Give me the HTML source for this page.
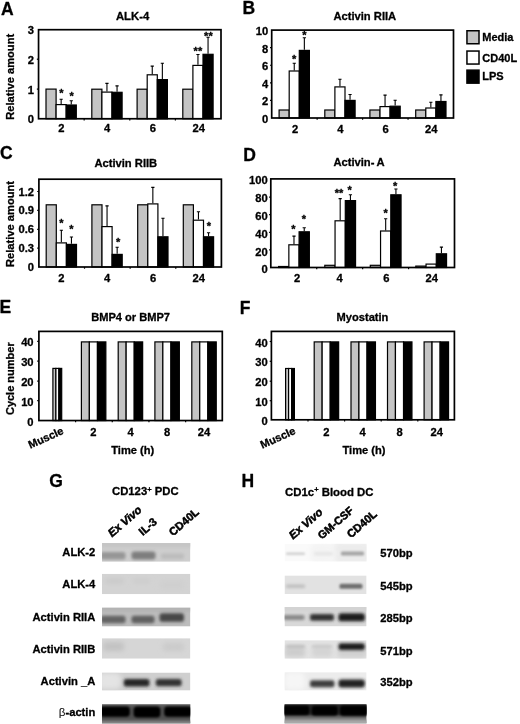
<!DOCTYPE html>
<html lang="en"><head><meta charset="utf-8"><title>Figure</title>
<style>html,body{margin:0;padding:0;background:#fff}svg{display:block}text{stroke:#000;stroke-width:.3px;stroke-linejoin:round}</style>
</head><body>
<svg width="520" height="724" viewBox="0 0 520 724" font-family='"Liberation Sans", Arial, sans-serif' font-weight="bold" fill="#000">
<defs>
<filter id="b0" x="-30%" y="-80%" width="160%" height="260%"><feGaussianBlur stdDeviation="0.6"/></filter>
<filter id="b1" x="-30%" y="-80%" width="160%" height="260%"><feGaussianBlur stdDeviation="1.0"/></filter>
<filter id="b2" x="-30%" y="-80%" width="160%" height="260%"><feGaussianBlur stdDeviation="1.5"/></filter>
<filter id="b3" x="-30%" y="-80%" width="160%" height="260%"><feGaussianBlur stdDeviation="2.0"/></filter>
<filter id="b4" x="-30%" y="-80%" width="160%" height="260%"><feGaussianBlur stdDeviation="2.6"/></filter>
</defs>
<rect width="520" height="724" fill="#fff"/>
<text x="0.9" y="14.8" font-size="17.5">A</text>
<text x="242.4" y="14" font-size="17.5">B</text>
<text x="0" y="159.4" font-size="17.5">C</text>
<text x="243.2" y="160.6" font-size="17.5">D</text>
<text x="-0.5" y="313.4" font-size="17.5">E</text>
<text x="239.7" y="314" font-size="17.5">F</text>
<text x="49.2" y="487" font-size="17.5">G</text>
<text x="241.5" y="487.2" font-size="17.5">H</text>
<rect x="46.00" y="89.10" width="10.10" height="29.65" fill="#c4c4c4" stroke="#000" stroke-width="1.2"/>
<rect x="56.10" y="104.60" width="10.10" height="14.15" fill="#fff" stroke="#000" stroke-width="1.2"/>
<path d="M61.15 104.00V99.30M59.55 99.30H62.75" stroke="#000" stroke-width="1.1" fill="none"/>
<rect x="66.20" y="105.00" width="10.10" height="13.75" fill="#000" stroke="#000" stroke-width="1.2"/>
<path d="M71.25 104.40V100.70M69.65 100.70H72.85" stroke="#000" stroke-width="1.1" fill="none"/>
<rect x="91.80" y="89.20" width="10.10" height="29.55" fill="#c4c4c4" stroke="#000" stroke-width="1.2"/>
<rect x="101.90" y="92.10" width="10.10" height="26.65" fill="#fff" stroke="#000" stroke-width="1.2"/>
<path d="M106.95 91.50V83.40M105.35 83.40H108.55" stroke="#000" stroke-width="1.1" fill="none"/>
<rect x="112.00" y="92.30" width="10.10" height="26.45" fill="#000" stroke="#000" stroke-width="1.2"/>
<path d="M117.05 91.70V85.90M115.45 85.90H118.65" stroke="#000" stroke-width="1.1" fill="none"/>
<rect x="137.10" y="89.20" width="10.10" height="29.55" fill="#c4c4c4" stroke="#000" stroke-width="1.2"/>
<rect x="147.20" y="74.80" width="10.10" height="43.95" fill="#fff" stroke="#000" stroke-width="1.2"/>
<path d="M152.25 74.20V66.10M150.65 66.10H153.85" stroke="#000" stroke-width="1.1" fill="none"/>
<rect x="157.30" y="79.60" width="10.10" height="39.15" fill="#000" stroke="#000" stroke-width="1.2"/>
<path d="M162.35 79.00V63.20M160.75 63.20H163.95" stroke="#000" stroke-width="1.1" fill="none"/>
<rect x="182.80" y="89.20" width="10.10" height="29.55" fill="#c4c4c4" stroke="#000" stroke-width="1.2"/>
<rect x="192.90" y="65.40" width="10.10" height="53.35" fill="#fff" stroke="#000" stroke-width="1.2"/>
<path d="M197.95 64.80V54.50M196.35 54.50H199.55" stroke="#000" stroke-width="1.1" fill="none"/>
<rect x="203.00" y="54.30" width="10.10" height="64.45" fill="#000" stroke="#000" stroke-width="1.2"/>
<path d="M208.05 53.70V37.20M206.45 37.20H209.65" stroke="#000" stroke-width="1.1" fill="none"/>
<rect x="38.55" y="29.7" width="182.45" height="89.05" fill="none" stroke="#000" stroke-width="1.7"/>
<path d="M84.1625 118.75l0 1.7" stroke="#000" stroke-width="1.2"/>
<path d="M129.77499999999998 118.75l0 1.7" stroke="#000" stroke-width="1.2"/>
<path d="M175.3875 118.75l0 1.7" stroke="#000" stroke-width="1.2"/>
<text x="34.1" y="34.35" font-size="11.2" text-anchor="end">3</text>
<text x="34.1" y="63.8" font-size="11.2" text-anchor="end">2</text>
<text x="34.1" y="93.55" font-size="11.2" text-anchor="end">1</text>
<text x="34.1" y="122.85" font-size="11.2" text-anchor="end">0</text>
<path d="M38.55 59.2l-1.7 0" stroke="#000" stroke-width="1.2"/>
<path d="M38.55 89.1l-1.7 0" stroke="#000" stroke-width="1.2"/>
<text x="61.3" y="132.3" font-size="11.2" text-anchor="middle">2</text>
<text x="107" y="132.3" font-size="11.2" text-anchor="middle">4</text>
<text x="152.9" y="132.3" font-size="11.2" text-anchor="middle">6</text>
<text x="198.7" y="132.3" font-size="11.2" text-anchor="middle">24</text>
<text x="132.6" y="20" font-size="11.3" text-anchor="middle">ALK-4</text>
<text x="14.2" y="76.8" font-size="11.13" text-anchor="middle" transform="rotate(-90 14.2 76.8)">Relative amount</text>
<text x="61.3" y="97.39999999999999" font-size="11" text-anchor="middle">*</text>
<text x="71.6" y="100.2" font-size="11" text-anchor="middle">*</text>
<text x="197.9" y="55.099999999999994" font-size="11" text-anchor="middle">**</text>
<text x="208.4" y="39.599999999999994" font-size="11" text-anchor="middle">**</text>
<rect x="279.10" y="110.00" width="10.10" height="8.00" fill="#c4c4c4" stroke="#000" stroke-width="1.2"/>
<rect x="289.20" y="71.00" width="10.10" height="47.00" fill="#fff" stroke="#000" stroke-width="1.2"/>
<path d="M294.25 70.40V63.20M292.65 63.20H295.85" stroke="#000" stroke-width="1.1" fill="none"/>
<rect x="299.30" y="50.40" width="10.10" height="67.60" fill="#000" stroke="#000" stroke-width="1.2"/>
<path d="M304.35 49.80V37.80M302.75 37.80H305.95" stroke="#000" stroke-width="1.1" fill="none"/>
<rect x="324.80" y="110.00" width="10.10" height="8.00" fill="#c4c4c4" stroke="#000" stroke-width="1.2"/>
<rect x="334.90" y="86.90" width="10.10" height="31.10" fill="#fff" stroke="#000" stroke-width="1.2"/>
<path d="M339.95 86.30V79.20M338.35 79.20H341.55" stroke="#000" stroke-width="1.1" fill="none"/>
<rect x="345.00" y="100.40" width="10.10" height="17.60" fill="#000" stroke="#000" stroke-width="1.2"/>
<path d="M350.05 99.80V94.50M348.45 94.50H351.65" stroke="#000" stroke-width="1.1" fill="none"/>
<rect x="369.90" y="110.00" width="10.10" height="8.00" fill="#c4c4c4" stroke="#000" stroke-width="1.2"/>
<rect x="380.00" y="106.60" width="10.10" height="11.40" fill="#fff" stroke="#000" stroke-width="1.2"/>
<path d="M385.05 106.00V95.10M383.45 95.10H386.65" stroke="#000" stroke-width="1.1" fill="none"/>
<rect x="390.10" y="106.20" width="10.10" height="11.80" fill="#000" stroke="#000" stroke-width="1.2"/>
<path d="M395.15 105.60V100.30M393.55 100.30H396.75" stroke="#000" stroke-width="1.1" fill="none"/>
<rect x="415.70" y="110.00" width="10.10" height="8.00" fill="#c4c4c4" stroke="#000" stroke-width="1.2"/>
<rect x="425.80" y="108.00" width="10.10" height="10.00" fill="#fff" stroke="#000" stroke-width="1.2"/>
<path d="M430.85 107.40V102.20M429.25 102.20H432.45" stroke="#000" stroke-width="1.1" fill="none"/>
<rect x="435.90" y="101.50" width="10.10" height="16.50" fill="#000" stroke="#000" stroke-width="1.2"/>
<path d="M440.95 100.90V94.90M439.35 94.90H442.55" stroke="#000" stroke-width="1.1" fill="none"/>
<rect x="271.7" y="30.1" width="181.8" height="87.9" fill="none" stroke="#000" stroke-width="1.7"/>
<path d="M317.15 118.0l0 1.7" stroke="#000" stroke-width="1.2"/>
<path d="M362.6 118.0l0 1.7" stroke="#000" stroke-width="1.2"/>
<path d="M408.05 118.0l0 1.7" stroke="#000" stroke-width="1.2"/>
<text x="268.2" y="34.8" font-size="11.2" text-anchor="end">10</text>
<text x="268.2" y="52.5" font-size="11.2" text-anchor="end">8</text>
<text x="268.2" y="70.1" font-size="11.2" text-anchor="end">6</text>
<text x="268.2" y="87.8" font-size="11.2" text-anchor="end">4</text>
<text x="268.2" y="105.4" font-size="11.2" text-anchor="end">2</text>
<text x="268.2" y="123.0" font-size="11.2" text-anchor="end">0</text>
<path d="M271.7 100.42l-1.7 0" stroke="#000" stroke-width="1.2"/>
<path d="M271.7 82.84l-1.7 0" stroke="#000" stroke-width="1.2"/>
<path d="M271.7 65.26l-1.7 0" stroke="#000" stroke-width="1.2"/>
<path d="M271.7 47.68000000000001l-1.7 0" stroke="#000" stroke-width="1.2"/>
<text x="295" y="132.6" font-size="11.2" text-anchor="middle">2</text>
<text x="340.3" y="132.6" font-size="11.2" text-anchor="middle">4</text>
<text x="385.5" y="132.6" font-size="11.2" text-anchor="middle">6</text>
<text x="431.2" y="132.6" font-size="11.2" text-anchor="middle">24</text>
<text x="364.8" y="20.4" font-size="11.2" text-anchor="middle">Activin RIIA</text>
<text x="294.2" y="62.5" font-size="11" text-anchor="middle">*</text>
<text x="304.4" y="39.4" font-size="11" text-anchor="middle">*</text>
<rect x="466.95" y="30.75" width="12.05" height="13.0" fill="#c4c4c4" stroke="#000" stroke-width="1.5"/>
<rect x="466.95" y="51.05" width="12.05" height="13.0" fill="#fff" stroke="#000" stroke-width="1.5"/>
<rect x="466.95" y="70.15" width="12.05" height="13.0" fill="#000" stroke="#000" stroke-width="1.5"/>
<text x="482.3" y="40.7" font-size="11">Media</text>
<text x="482.3" y="61.5" font-size="11">CD40L</text>
<text x="482.3" y="80.1" font-size="11">LPS</text>
<rect x="46.20" y="204.80" width="10.10" height="62.20" fill="#c4c4c4" stroke="#000" stroke-width="1.2"/>
<rect x="56.30" y="242.90" width="10.10" height="24.10" fill="#fff" stroke="#000" stroke-width="1.2"/>
<path d="M61.35 242.30V230.30M59.75 230.30H62.95" stroke="#000" stroke-width="1.1" fill="none"/>
<rect x="66.40" y="244.40" width="10.10" height="22.60" fill="#000" stroke="#000" stroke-width="1.2"/>
<path d="M71.45 243.80V237.00M69.85 237.00H73.05" stroke="#000" stroke-width="1.1" fill="none"/>
<rect x="91.90" y="204.80" width="10.10" height="62.20" fill="#c4c4c4" stroke="#000" stroke-width="1.2"/>
<rect x="102.00" y="226.60" width="10.10" height="40.40" fill="#fff" stroke="#000" stroke-width="1.2"/>
<path d="M107.05 226.00V205.90M105.45 205.90H108.65" stroke="#000" stroke-width="1.1" fill="none"/>
<rect x="112.10" y="254.40" width="10.10" height="12.60" fill="#000" stroke="#000" stroke-width="1.2"/>
<path d="M117.15 253.80V247.20M115.55 247.20H118.75" stroke="#000" stroke-width="1.1" fill="none"/>
<rect x="137.70" y="204.80" width="10.10" height="62.20" fill="#c4c4c4" stroke="#000" stroke-width="1.2"/>
<rect x="147.80" y="203.90" width="10.10" height="63.10" fill="#fff" stroke="#000" stroke-width="1.2"/>
<path d="M152.85 203.30V187.40M151.25 187.40H154.45" stroke="#000" stroke-width="1.1" fill="none"/>
<rect x="157.90" y="236.80" width="10.10" height="30.20" fill="#000" stroke="#000" stroke-width="1.2"/>
<path d="M162.95 236.20V218.20M161.35 218.20H164.55" stroke="#000" stroke-width="1.1" fill="none"/>
<rect x="183.30" y="204.80" width="10.10" height="62.20" fill="#c4c4c4" stroke="#000" stroke-width="1.2"/>
<rect x="193.40" y="220.20" width="10.10" height="46.80" fill="#fff" stroke="#000" stroke-width="1.2"/>
<path d="M198.45 219.60V211.70M196.85 211.70H200.05" stroke="#000" stroke-width="1.1" fill="none"/>
<rect x="203.50" y="236.80" width="10.10" height="30.20" fill="#000" stroke="#000" stroke-width="1.2"/>
<path d="M208.55 236.20V232.80M206.95 232.80H210.15" stroke="#000" stroke-width="1.1" fill="none"/>
<rect x="38.9" y="179.2" width="182.5" height="87.80000000000001" fill="none" stroke="#000" stroke-width="1.7"/>
<path d="M84.525 267.0l0 1.7" stroke="#000" stroke-width="1.2"/>
<path d="M130.15 267.0l0 1.7" stroke="#000" stroke-width="1.2"/>
<path d="M175.775 267.0l0 1.7" stroke="#000" stroke-width="1.2"/>
<text x="34.0" y="195.6" font-size="11.2" text-anchor="end">1.2</text>
<text x="34.0" y="214.4" font-size="11.2" text-anchor="end">0.9</text>
<text x="34.0" y="233.3" font-size="11.2" text-anchor="end">0.6</text>
<text x="34.0" y="252.2" font-size="11.2" text-anchor="end">0.3</text>
<text x="34.0" y="271.0" font-size="11.2" text-anchor="end">0</text>
<path d="M38.9 191.5l-1.7 0" stroke="#000" stroke-width="1.2"/>
<path d="M38.9 210.4l-1.7 0" stroke="#000" stroke-width="1.2"/>
<path d="M38.9 229.3l-1.7 0" stroke="#000" stroke-width="1.2"/>
<path d="M38.9 248.1l-1.7 0" stroke="#000" stroke-width="1.2"/>
<text x="61.3" y="281.5" font-size="11.2" text-anchor="middle">2</text>
<text x="107" y="281.5" font-size="11.2" text-anchor="middle">4</text>
<text x="153" y="281.5" font-size="11.2" text-anchor="middle">6</text>
<text x="198.7" y="281.5" font-size="11.2" text-anchor="middle">24</text>
<text x="125.8" y="166.6" font-size="11.2" text-anchor="middle">Activin RIIB</text>
<text x="14.1" y="224" font-size="11.13" text-anchor="middle" transform="rotate(-90 14.1 224)">Relative amount</text>
<text x="61.3" y="226.9" font-size="11" text-anchor="middle">*</text>
<text x="71.5" y="232.8" font-size="11" text-anchor="middle">*</text>
<text x="118.1" y="246.10000000000002" font-size="11" text-anchor="middle">*</text>
<text x="209" y="230.3" font-size="11" text-anchor="middle">*</text>
<rect x="278.60" y="266.50" width="10.25" height="1.00" fill="#c4c4c4" stroke="#000" stroke-width="1.2"/>
<rect x="288.85" y="244.80" width="10.25" height="22.70" fill="#fff" stroke="#000" stroke-width="1.2"/>
<path d="M293.98 244.20V236.10M292.38 236.10H295.58" stroke="#000" stroke-width="1.1" fill="none"/>
<rect x="299.10" y="231.80" width="10.25" height="35.70" fill="#000" stroke="#000" stroke-width="1.2"/>
<path d="M304.23 231.20V227.80M302.62 227.80H305.83" stroke="#000" stroke-width="1.1" fill="none"/>
<rect x="324.80" y="265.30" width="10.25" height="2.20" fill="#c4c4c4" stroke="#000" stroke-width="1.2"/>
<rect x="335.05" y="220.80" width="10.25" height="46.70" fill="#fff" stroke="#000" stroke-width="1.2"/>
<path d="M340.18 220.20V198.60M338.57 198.60H341.78" stroke="#000" stroke-width="1.1" fill="none"/>
<rect x="345.30" y="200.60" width="10.25" height="66.90" fill="#000" stroke="#000" stroke-width="1.2"/>
<path d="M350.43 200.00V194.70M348.82 194.70H352.03" stroke="#000" stroke-width="1.1" fill="none"/>
<rect x="370.30" y="265.30" width="10.25" height="2.20" fill="#c4c4c4" stroke="#000" stroke-width="1.2"/>
<rect x="380.55" y="231.00" width="10.25" height="36.50" fill="#fff" stroke="#000" stroke-width="1.2"/>
<path d="M385.68 230.40V218.80M384.07 218.80H387.28" stroke="#000" stroke-width="1.1" fill="none"/>
<rect x="390.80" y="194.80" width="10.25" height="72.70" fill="#000" stroke="#000" stroke-width="1.2"/>
<path d="M395.93 194.20V189.00M394.32 189.00H397.53" stroke="#000" stroke-width="1.1" fill="none"/>
<rect x="415.80" y="266.10" width="10.25" height="1.40" fill="#c4c4c4" stroke="#000" stroke-width="1.2"/>
<rect x="426.05" y="264.10" width="10.25" height="3.40" fill="#fff" stroke="#000" stroke-width="1.2"/>
<rect x="436.30" y="253.80" width="10.25" height="13.70" fill="#000" stroke="#000" stroke-width="1.2"/>
<path d="M441.43 253.20V247.10M439.82 247.10H443.03" stroke="#000" stroke-width="1.1" fill="none"/>
<rect x="270.8" y="178.9" width="183.7" height="88.6" fill="none" stroke="#000" stroke-width="1.7"/>
<path d="M316.725 267.5l0 1.7" stroke="#000" stroke-width="1.2"/>
<path d="M362.65 267.5l0 1.7" stroke="#000" stroke-width="1.2"/>
<path d="M408.575 267.5l0 1.7" stroke="#000" stroke-width="1.2"/>
<text x="267.7" y="184.4" font-size="11.2" text-anchor="end">100</text>
<text x="267.7" y="202.2" font-size="11.2" text-anchor="end">80</text>
<text x="267.7" y="220.3" font-size="11.2" text-anchor="end">60</text>
<text x="267.7" y="237.9" font-size="11.2" text-anchor="end">40</text>
<text x="267.7" y="255.5" font-size="11.2" text-anchor="end">20</text>
<text x="267.7" y="273.2" font-size="11.2" text-anchor="end">0</text>
<path d="M270.8 249.9l-1.7 0" stroke="#000" stroke-width="1.2"/>
<path d="M270.8 232.3l-1.7 0" stroke="#000" stroke-width="1.2"/>
<path d="M270.8 214.7l-1.7 0" stroke="#000" stroke-width="1.2"/>
<path d="M270.8 197.1l-1.7 0" stroke="#000" stroke-width="1.2"/>
<text x="297" y="281.5" font-size="11.2" text-anchor="middle">2</text>
<text x="339.5" y="281.5" font-size="11.2" text-anchor="middle">4</text>
<text x="386.3" y="281.5" font-size="11.2" text-anchor="middle">6</text>
<text x="431.8" y="281.5" font-size="11.2" text-anchor="middle">24</text>
<text x="333.4" y="166.4" font-size="11.2">Activin-</text>
<text x="376.5" y="166.4" font-size="11.2">A</text>
<text x="293.5" y="233.20000000000002" font-size="11" text-anchor="middle">*</text>
<text x="303.8" y="222.60000000000002" font-size="11" text-anchor="middle">*</text>
<text x="339" y="197.10000000000002" font-size="11" text-anchor="middle">**</text>
<text x="349.6" y="194.4" font-size="11" text-anchor="middle">*</text>
<text x="385.6" y="216.5" font-size="11" text-anchor="middle">*</text>
<text x="395.2" y="190.0" font-size="11" text-anchor="middle">*</text>
<rect x="52.90" y="368.40" width="3.00" height="52.15" fill="#c4c4c4" stroke="#000" stroke-width="1.2"/>
<rect x="55.90" y="368.40" width="3.00" height="52.15" fill="#fff" stroke="#000" stroke-width="1.2"/>
<rect x="58.90" y="368.40" width="2.80" height="52.15" fill="#000" stroke="#000" stroke-width="1.2"/>
<rect x="81.40" y="341.90" width="7.95" height="78.65" fill="#c4c4c4" stroke="#000" stroke-width="1.2"/>
<rect x="89.35" y="341.90" width="8.10" height="78.65" fill="#fff" stroke="#000" stroke-width="1.2"/>
<rect x="97.45" y="341.90" width="8.40" height="78.65" fill="#000" stroke="#000" stroke-width="1.2"/>
<rect x="118.20" y="341.90" width="7.95" height="78.65" fill="#c4c4c4" stroke="#000" stroke-width="1.2"/>
<rect x="126.15" y="341.90" width="8.10" height="78.65" fill="#fff" stroke="#000" stroke-width="1.2"/>
<rect x="134.25" y="341.90" width="8.40" height="78.65" fill="#000" stroke="#000" stroke-width="1.2"/>
<rect x="154.90" y="341.90" width="7.95" height="78.65" fill="#c4c4c4" stroke="#000" stroke-width="1.2"/>
<rect x="162.85" y="341.90" width="8.10" height="78.65" fill="#fff" stroke="#000" stroke-width="1.2"/>
<rect x="170.95" y="341.90" width="8.40" height="78.65" fill="#000" stroke="#000" stroke-width="1.2"/>
<rect x="191.80" y="341.90" width="7.95" height="78.65" fill="#c4c4c4" stroke="#000" stroke-width="1.2"/>
<rect x="199.75" y="341.90" width="8.10" height="78.65" fill="#fff" stroke="#000" stroke-width="1.2"/>
<rect x="207.85" y="341.90" width="8.40" height="78.65" fill="#000" stroke="#000" stroke-width="1.2"/>
<rect x="38.9" y="331.4" width="183.4" height="89.15000000000003" fill="none" stroke="#000" stroke-width="1.7"/>
<path d="M75.58 420.55l0 1.7" stroke="#000" stroke-width="1.2"/>
<path d="M112.25999999999999 420.55l0 1.7" stroke="#000" stroke-width="1.2"/>
<path d="M148.94 420.55l0 1.7" stroke="#000" stroke-width="1.2"/>
<path d="M185.62 420.55l0 1.7" stroke="#000" stroke-width="1.2"/>
<text x="33.6" y="346.4" font-size="11.2" text-anchor="end">40</text>
<text x="33.6" y="366.3" font-size="11.2" text-anchor="end">30</text>
<text x="33.6" y="385.8" font-size="11.2" text-anchor="end">20</text>
<text x="33.6" y="405.7" font-size="11.2" text-anchor="end">10</text>
<text x="33.6" y="425.7" font-size="11.2" text-anchor="end">0</text>
<path d="M38.9 341.3l-1.7 0" stroke="#000" stroke-width="1.2"/>
<path d="M38.9 361.2l-1.7 0" stroke="#000" stroke-width="1.2"/>
<path d="M38.9 381.2l-1.7 0" stroke="#000" stroke-width="1.2"/>
<path d="M38.9 400.7l-1.7 0" stroke="#000" stroke-width="1.2"/>
<text x="93.3" y="435.5" font-size="11.2" text-anchor="middle">2</text>
<text x="130.5" y="435.5" font-size="11.2" text-anchor="middle">4</text>
<text x="167" y="435.5" font-size="11.2" text-anchor="middle">8</text>
<text x="203.9" y="435.5" font-size="11.2" text-anchor="middle">24</text>
<text x="130.6" y="321" font-size="11.1" text-anchor="middle">BMP4 or BMP7</text>
<text x="111.3" y="453.8" font-size="11.1">Time (h)</text>
<text x="14.4" y="378.7" font-size="11.0" text-anchor="middle" transform="rotate(-90 14.4 378.7)">Cycle number</text>
<text x="64.4" y="433.6" font-size="11.0" text-anchor="end" transform="rotate(-24 64.4 433.6)">Muscle</text>
<rect x="285.60" y="368.50" width="3.00" height="51.30" fill="#c4c4c4" stroke="#000" stroke-width="1.2"/>
<rect x="288.60" y="368.50" width="3.00" height="51.30" fill="#fff" stroke="#000" stroke-width="1.2"/>
<rect x="291.60" y="368.50" width="2.80" height="51.30" fill="#000" stroke="#000" stroke-width="1.2"/>
<rect x="314.20" y="341.90" width="7.95" height="77.90" fill="#c4c4c4" stroke="#000" stroke-width="1.2"/>
<rect x="322.15" y="341.90" width="8.10" height="77.90" fill="#fff" stroke="#000" stroke-width="1.2"/>
<rect x="330.25" y="341.90" width="8.40" height="77.90" fill="#000" stroke="#000" stroke-width="1.2"/>
<rect x="351.00" y="341.90" width="7.95" height="77.90" fill="#c4c4c4" stroke="#000" stroke-width="1.2"/>
<rect x="358.95" y="341.90" width="8.10" height="77.90" fill="#fff" stroke="#000" stroke-width="1.2"/>
<rect x="367.05" y="341.90" width="8.40" height="77.90" fill="#000" stroke="#000" stroke-width="1.2"/>
<rect x="387.50" y="341.90" width="7.95" height="77.90" fill="#c4c4c4" stroke="#000" stroke-width="1.2"/>
<rect x="395.45" y="341.90" width="8.10" height="77.90" fill="#fff" stroke="#000" stroke-width="1.2"/>
<rect x="403.55" y="341.90" width="8.40" height="77.90" fill="#000" stroke="#000" stroke-width="1.2"/>
<rect x="424.10" y="341.90" width="7.95" height="77.90" fill="#c4c4c4" stroke="#000" stroke-width="1.2"/>
<rect x="432.05" y="341.90" width="8.10" height="77.90" fill="#fff" stroke="#000" stroke-width="1.2"/>
<rect x="440.15" y="341.90" width="8.40" height="77.90" fill="#000" stroke="#000" stroke-width="1.2"/>
<rect x="271.4" y="331.4" width="183.0" height="88.40000000000003" fill="none" stroke="#000" stroke-width="1.7"/>
<path d="M308.0 419.8l0 1.7" stroke="#000" stroke-width="1.2"/>
<path d="M344.59999999999997 419.8l0 1.7" stroke="#000" stroke-width="1.2"/>
<path d="M381.2 419.8l0 1.7" stroke="#000" stroke-width="1.2"/>
<path d="M417.79999999999995 419.8l0 1.7" stroke="#000" stroke-width="1.2"/>
<text x="267.8" y="346.9" font-size="11.2" text-anchor="end">40</text>
<text x="267.8" y="366.4" font-size="11.2" text-anchor="end">30</text>
<text x="267.8" y="385.9" font-size="11.2" text-anchor="end">20</text>
<text x="267.8" y="405.7" font-size="11.2" text-anchor="end">10</text>
<text x="267.8" y="425.3" font-size="11.2" text-anchor="end">0</text>
<path d="M271.4 341.5l-1.7 0" stroke="#000" stroke-width="1.2"/>
<path d="M271.4 361.3l-1.7 0" stroke="#000" stroke-width="1.2"/>
<path d="M271.4 381.2l-1.7 0" stroke="#000" stroke-width="1.2"/>
<path d="M271.4 400.7l-1.7 0" stroke="#000" stroke-width="1.2"/>
<text x="326.3" y="435.5" font-size="11.2" text-anchor="middle">2</text>
<text x="362.7" y="435.5" font-size="11.2" text-anchor="middle">4</text>
<text x="399.5" y="435.5" font-size="11.2" text-anchor="middle">8</text>
<text x="436.7" y="435.5" font-size="11.2" text-anchor="middle">24</text>
<text x="362.5" y="320.8" font-size="11.1" text-anchor="middle">Myostatin</text>
<text x="342.5" y="453.8" font-size="11.1">Time (h)</text>
<text x="296.4" y="433.6" font-size="11.0" text-anchor="end" transform="rotate(-24 296.4 433.6)">Muscle</text>
<text x="112.0" y="495.2" font-size="11.3">CD123<tspan font-size="7.5" dy="-3.6">+</tspan><tspan dy="3.6"> PDC</tspan></text>
<text x="112.0" y="537.5" font-size="11.3" font-style="italic" transform="rotate(-41 112.0 537.5)" style="stroke-width:.5px">Ex Vivo</text>
<text x="142.8" y="536.0" font-size="11.2" transform="rotate(-41 142.8 536.0)" style="stroke-width:.5px">IL-3</text>
<text x="173" y="536.5" font-size="11.2" transform="rotate(-41 173 536.5)" style="stroke-width:.5px">CD40L</text>
<text x="95.3" y="555.8" font-size="11.2" text-anchor="end">ALK-2</text>
<text x="95.3" y="587.5" font-size="11.2" text-anchor="end">ALK-4</text>
<text x="95.3" y="621" font-size="11.2" text-anchor="end">Activin RIIA</text>
<text x="95.3" y="653.2" font-size="11.2" text-anchor="end">Activin RIIB</text>
<text x="95.3" y="684.6" font-size="11.2" text-anchor="end">Activin _A</text>
<text x="95.3" y="716.4" font-size="11.2" text-anchor="end"><tspan font-weight="normal" font-size="11.5" stroke="none">β</tspan>-actin</text>
<clipPath id="c1"><rect x="102" y="543" width="88.4" height="18.799999999999955"/></clipPath>
<g clip-path="url(#c1)">
<rect x="102" y="543" width="88.4" height="18.799999999999955" fill="rgb(206,206,206)"/>

<rect x="99" y="542.50" width="94.4" height="4" rx="1.33" fill="rgb(192,192,192)" filter="url(#b3)"/>
<rect x="100.5" y="552.05" width="25.0" height="7.5" rx="2.50" fill="rgb(150,150,150)" filter="url(#b2)"/>
<rect x="131.5" y="551.50" width="24.0" height="8" rx="2.67" fill="rgb(126,126,126)" filter="url(#b2)"/>
<rect x="161" y="553.45" width="23" height="5.5" rx="1.83" fill="rgb(188,188,188)" filter="url(#b2)"/>
</g>
<clipPath id="c2"><rect x="102" y="573.8" width="88.4" height="20.40000000000009"/></clipPath>
<g clip-path="url(#c2)">
<rect x="102" y="573.8" width="88.4" height="20.40000000000009" fill="rgb(211,211,211)"/>

<rect x="105" y="578.50" width="19" height="5" rx="1.67" fill="rgb(202,202,202)" filter="url(#b3)"/>
<rect x="133" y="578.50" width="17" height="5" rx="1.67" fill="rgb(205,205,205)" filter="url(#b3)"/>
<rect x="160" y="581.00" width="25" height="8" rx="2.67" fill="rgb(207,207,207)" filter="url(#b4)"/>
</g>
<clipPath id="c3"><rect x="102" y="607.6" width="88.4" height="19.0"/></clipPath>
<g clip-path="url(#c3)">
<rect x="102" y="607.6" width="88.4" height="19.0" fill="rgb(188,188,188)"/>

<rect x="99" y="607.10" width="94.4" height="3" rx="1.00" fill="rgb(170,170,170)" filter="url(#b3)"/>
<rect x="100.5" y="615.85" width="25.0" height="7.5" rx="2.50" fill="rgb(100,100,100)" filter="url(#b2)"/>
<rect x="131.5" y="615.85" width="23.0" height="7.5" rx="2.50" fill="rgb(96,96,96)" filter="url(#b2)"/>
<rect x="159.5" y="613.35" width="24.5" height="8.5" rx="2.83" fill="rgb(70,70,70)" filter="url(#b2)"/>
</g>
<clipPath id="c4"><rect x="102" y="638.2" width="88.4" height="20.5"/></clipPath>
<g clip-path="url(#c4)">
<rect x="102" y="638.2" width="88.4" height="20.5" fill="rgb(214,214,214)"/>

<rect x="103" y="642.00" width="21" height="9" rx="3.00" fill="rgb(194,194,194)" filter="url(#b4)"/>
<rect x="163" y="643.00" width="21" height="8" rx="2.67" fill="rgb(202,202,202)" filter="url(#b4)"/>
</g>
<clipPath id="c5"><rect x="102" y="672.5" width="88.4" height="18.100000000000023"/></clipPath>
<g clip-path="url(#c5)">
<rect x="102" y="672.5" width="88.4" height="18.100000000000023" fill="rgb(207,207,207)"/>

<rect x="98" y="673.00" width="23" height="16" rx="5.33" fill="rgb(228,228,228)" filter="url(#b4)"/>
<rect x="123.8" y="678.90" width="25.700000000000003" height="7.6" rx="2.53" fill="rgb(40,40,40)" filter="url(#b2)"/>
<rect x="155.8" y="679.10" width="25.799999999999983" height="7.2" rx="2.40" fill="rgb(48,48,48)" filter="url(#b2)"/>
</g>
<clipPath id="c6"><rect x="102" y="704.2" width="88.4" height="19.299999999999955"/></clipPath>
<g clip-path="url(#c6)">
<rect x="102" y="704.2" width="88.4" height="19.299999999999955" fill="rgb(78,78,78)"/>

<rect x="99" y="720.95" width="94.4" height="4.5" rx="1.50" fill="rgb(140,140,140)" filter="url(#b2)"/>
<rect x="99" y="703.20" width="94.4" height="2.4" rx="0.80" fill="rgb(112,112,112)" filter="url(#b1)"/>
<rect x="100" y="706.50" width="29.80000000000001" height="10.2" rx="3.40" fill="rgb(0,0,0)" filter="url(#b1)"/>
<rect x="133.6" y="706.40" width="26.80000000000001" height="11.2" rx="3.73" fill="rgb(0,0,0)" filter="url(#b1)"/>
<rect x="164.2" y="706.50" width="27.80000000000001" height="10.2" rx="3.40" fill="rgb(0,0,0)" filter="url(#b1)"/>
</g>
<text x="285" y="495.8" font-size="11.4">CD1c<tspan font-size="7.5" dy="-3.6">+</tspan><tspan dy="3.6"> Blood DC</tspan></text>
<text x="293" y="539.8" font-size="11.3" font-style="italic" transform="rotate(-41 293 539.8)" style="stroke-width:.5px">Ex Vivo</text>
<text x="321.8" y="539.8" font-size="10.9" transform="rotate(-41 321.8 539.8)" style="stroke-width:.5px">GM-CSF</text>
<text x="351" y="538.5" font-size="11.2" transform="rotate(-41 351 538.5)" style="stroke-width:.5px">CD40L</text>
<text x="380.3" y="557" font-size="11.2">570bp</text>
<text x="380.3" y="590.3" font-size="11.2">545bp</text>
<text x="380.3" y="622" font-size="11.2">285bp</text>
<text x="380.3" y="654.5" font-size="11.2">571bp</text>
<text x="380.3" y="685.7" font-size="11.2">352bp</text>
<clipPath id="c7"><rect x="284.5" y="543.7" width="82.10000000000002" height="17.799999999999955"/></clipPath>
<g clip-path="url(#c7)">
<rect x="284.5" y="543.7" width="82.10000000000002" height="17.799999999999955" fill="rgb(250,250,250)"/>

<rect x="332" y="542.00" width="40" height="22" rx="7.33" fill="rgb(236,236,236)" filter="url(#b4)"/>
<rect x="310" y="543.00" width="25" height="20" rx="6.67" fill="rgb(244,244,244)" filter="url(#b4)"/>
<rect x="286" y="552.45" width="19" height="2.5" rx="0.83" fill="rgb(208,208,208)" filter="url(#b1)"/>
<rect x="314" y="552.45" width="19" height="2.5" rx="0.83" fill="rgb(225,225,225)" filter="url(#b2)"/>
<rect x="341" y="551.60" width="23" height="3.8" rx="1.27" fill="rgb(165,165,165)" filter="url(#b1)"/>
</g>
<clipPath id="c8"><rect x="284.5" y="575.4" width="82.10000000000002" height="18.700000000000045"/></clipPath>
<g clip-path="url(#c8)">
<rect x="284.5" y="575.4" width="82.10000000000002" height="18.700000000000045" fill="rgb(226,226,226)"/>

<rect x="286" y="584.55" width="19" height="3.5" rx="1.17" fill="rgb(190,190,190)" filter="url(#b2)"/>
<rect x="339.5" y="583.80" width="23.0" height="5" rx="1.67" fill="rgb(112,112,112)" filter="url(#b1)"/>
</g>
<clipPath id="c9"><rect x="284.5" y="607" width="82.10000000000002" height="19.399999999999977"/></clipPath>
<g clip-path="url(#c9)">
<rect x="284.5" y="607" width="82.10000000000002" height="19.399999999999977" fill="rgb(216,216,216)"/>

<rect x="281.5" y="606.50" width="88.10000000000002" height="3" rx="1.00" fill="rgb(205,205,205)" filter="url(#b3)"/>
<rect x="283" y="614.90" width="21.5" height="5" rx="1.67" fill="rgb(135,135,135)" filter="url(#b2)"/>
<rect x="310" y="614.10" width="24" height="6.6" rx="2.20" fill="rgb(50,50,50)" filter="url(#b2)"/>
<rect x="338.5" y="613.30" width="26.30000000000001" height="8" rx="2.67" fill="rgb(28,28,28)" filter="url(#b2)"/>
</g>
<clipPath id="c10"><rect x="284.5" y="640.2" width="82.10000000000002" height="18.5"/></clipPath>
<g clip-path="url(#c10)">
<rect x="284.5" y="640.2" width="82.10000000000002" height="18.5" fill="rgb(226,226,226)"/>

<rect x="285" y="647.00" width="20" height="10" rx="3.33" fill="rgb(205,205,205)" filter="url(#b3)"/>
<rect x="312" y="647.00" width="20" height="10" rx="3.33" fill="rgb(212,212,212)" filter="url(#b3)"/>
<rect x="338" y="648.50" width="28" height="9" rx="3.00" fill="rgb(208,208,208)" filter="url(#b3)"/>
<rect x="286" y="644.90" width="19" height="3" rx="1.00" fill="rgb(188,188,188)" filter="url(#b2)"/>
<rect x="312" y="644.90" width="20" height="3" rx="1.00" fill="rgb(200,200,200)" filter="url(#b2)"/>
<rect x="338.5" y="643.20" width="26.30000000000001" height="6.8" rx="2.27" fill="rgb(30,30,30)" filter="url(#b2)"/>
</g>
<clipPath id="c11"><rect x="284.5" y="672.2" width="82.10000000000002" height="18.399999999999977"/></clipPath>
<g clip-path="url(#c11)">
<rect x="284.5" y="672.2" width="82.10000000000002" height="18.399999999999977" fill="rgb(236,236,236)"/>

<rect x="284" y="672.00" width="21" height="18" rx="6.00" fill="rgb(246,246,246)" filter="url(#b4)"/>
<rect x="310" y="680.30" width="24.5" height="7" rx="2.33" fill="rgb(62,62,62)" filter="url(#b2)"/>
<rect x="338.5" y="679.60" width="26.30000000000001" height="7.8" rx="2.60" fill="rgb(32,32,32)" filter="url(#b2)"/>
</g>
<clipPath id="c12"><rect x="284.5" y="704.2" width="82.10000000000002" height="19.199999999999932"/></clipPath>
<g clip-path="url(#c12)">
<rect x="284.5" y="704.2" width="82.10000000000002" height="19.199999999999932" fill="rgb(105,105,105)"/>

<rect x="281.5" y="719.60" width="88.10000000000002" height="6" rx="2.00" fill="rgb(172,172,172)" filter="url(#b2)"/>
<rect x="281.5" y="703.50" width="88.10000000000002" height="12" rx="4.00" fill="rgb(40,40,40)" filter="url(#b1)"/>
<rect x="282" y="705.40" width="27.399999999999977" height="9.6" rx="3.20" fill="rgb(0,0,0)" filter="url(#b1)"/>
<rect x="311.6" y="705.70" width="26.19999999999999" height="9.8" rx="3.27" fill="rgb(0,0,0)" filter="url(#b1)"/>
<rect x="339.8" y="705.40" width="28.19999999999999" height="10.4" rx="3.47" fill="rgb(0,0,0)" filter="url(#b1)"/>
</g>
</svg>
</body></html>
